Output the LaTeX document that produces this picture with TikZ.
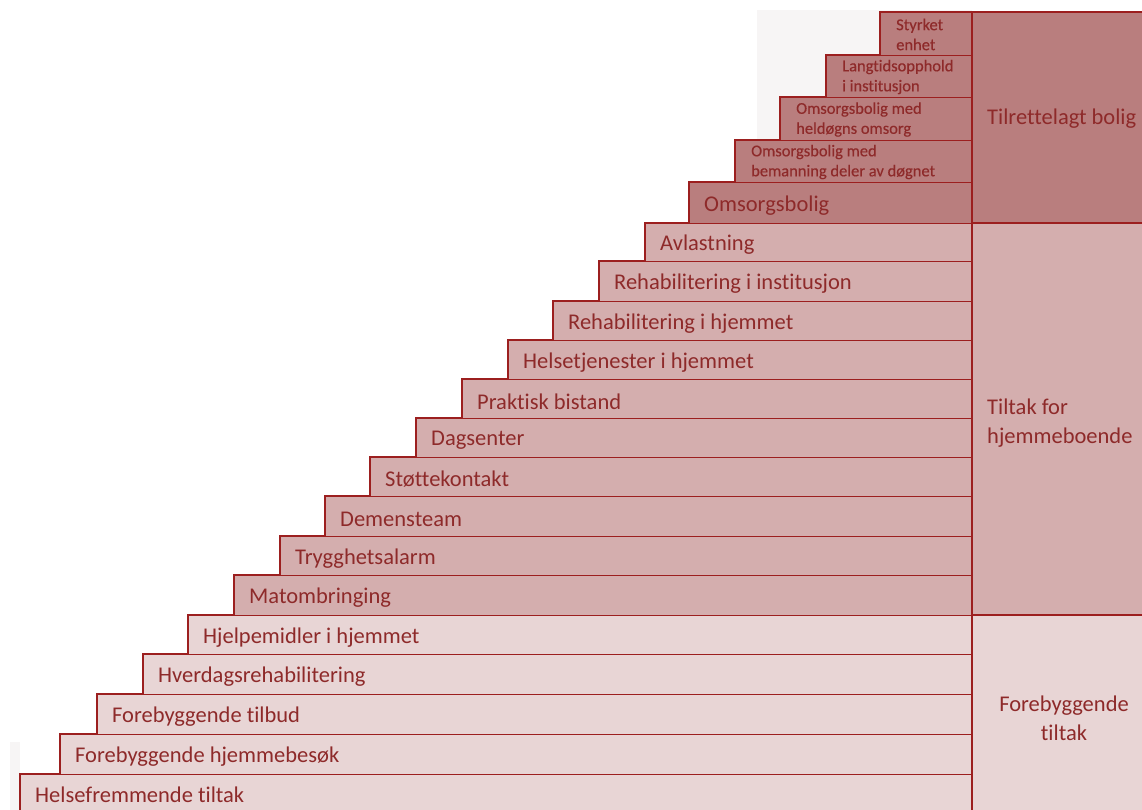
\documentclass[tikz,border=0pt]{standalone}
\usepackage{fontspec}
\setmainfont{Carlito}[Ligatures={NoCommon}]
\definecolor{lineC}{HTML}{9C1F1F}
\definecolor{textC}{HTML}{8E2A2A}
\definecolor{fillT}{HTML}{B97E7E}
\definecolor{fillM}{HTML}{D4AEAE}
\definecolor{fillF}{HTML}{E8D5D5}
\definecolor{shadeC}{HTML}{F7F5F5}
\tikzset{
  edge/.style={draw=lineC, line width=1.7pt},
  biglabel/.style={anchor=west, text=textC, font=\fontsize{22.5}{26}\selectfont, inner sep=0pt},
  smalllabel/.style={anchor=west, text=textC, font=\fontsize{16.5}{20}\selectfont\addfontfeature{FakeBold=0.4}, inner sep=0pt, align=left},
  sidelabel/.style={text=textC, font=\fontsize{22.5}{29}\selectfont, inner sep=0pt},
}
\begin{document}
\begin{tikzpicture}[x=1pt,y=-1pt]
\useasboundingbox (0,0) rectangle (1142,810);
% faint background
\fill[shadeC] (757,10) rectangle (972,182);
\fill[shadeC] (10,742) rectangle (20,810);
% right column fills
\fill[fillT] (972,12) rectangle (1142,223);
\fill[fillM] (972,223) rectangle (1142,615);
\fill[fillF] (972,615) rectangle (1142,810);
% steps: left/top/bottom/fill/label
\foreach \l/\t/\b/\c/\txt [count=\i] in {
  20/774/810/fillF/Helsefremmende tiltak,
  60/734/774/fillF/Forebyggende hjemmebesøk,
  97/694/734/fillF/Forebyggende tilbud,
  143/654/694/fillF/Hverdagsrehabilitering,
  188/615/654/fillF/Hjelpemidler i hjemmet,
  234/575/615/fillM/Matombringing,
  280/536/575/fillM/Trygghetsalarm,
  325/496/536/fillM/Demensteam,
  370/457/496/fillM/Støttekontakt,
  416/418/457/fillM/Dagsenter,
  462/379/418/fillM/Praktisk bistand,
  508/340/379/fillM/Helsetjenester i hjemmet,
  553/301/340/fillM/Rehabilitering i hjemmet,
  599/261/301/fillM/Rehabilitering i institusjon,
  645/223/261/fillM/Avlastning,
  689/182/223/fillT/Omsorgsbolig}{
  \fill[\c] (\l,\t) rectangle (972,\b);
  \draw[edge] (\l,\b) -- (\l,\t) -- (972,\t);
  \node[biglabel] (r\i) at ({\l+15},{(\t+\b)/2+3}) {\txt};
}
\foreach \l/\t/\b/\txt [count=\i] in {
  735/140/182/{Omsorgsbolig med\\bemanning deler av døgnet},
  780/97/140/{Omsorgsbolig med\\heldøgns omsorg},
  826/55/97/{Langtidsopphold\\i institusjon},
  880/12/55/{Styrket\\enhet}}{
  \fill[fillT] (\l,\t) rectangle (972,\b);
  \draw[edge] (\l,\b) -- (\l,\t) -- (972,\t);
  \node[smalllabel] (s\i) at ({\l+16},{(\t+\b)/2+1}) {\txt};
}
% right column lines
\draw[edge] (972,12) -- (1142,12);
\draw[edge] (972,223) -- (1142,223);
\draw[edge] (972,615) -- (1142,615);
\draw[edge] (972,12) -- (972,810);
% side labels
\node[sidelabel, anchor=west] (sideT) at (987,119) {Tilrettelagt bolig};
\node[sidelabel, anchor=west, align=left] (sideM) at (987,423) {Tiltak for\\hjemmeboende};
\node[sidelabel, align=center] (sideF) at (1064,718) {Forebyggende\\tiltak};
\end{tikzpicture}
\end{document}
